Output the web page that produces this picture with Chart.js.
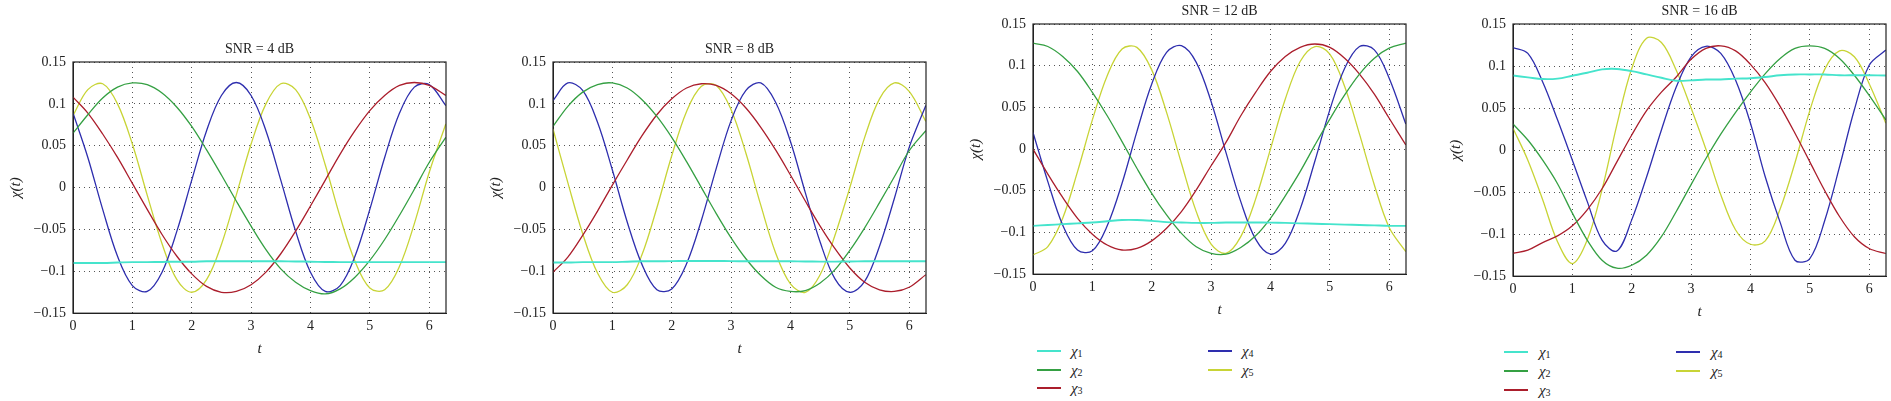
<!DOCTYPE html>
<html>
<head>
<meta charset="utf-8">
<title>chi(t) for different SNR</title>
<script src="https://cdn.jsdelivr.net/npm/chart.js@4.4.0/dist/chart.umd.min.js"></script>
<style>
    body {
        margin: 0;
        background: #fff;
        width: 1891px;
        height: 401px;
        overflow: hidden;
        position: relative;
        font-family: "Liberation Serif", "DejaVu Serif", serif;
    }
    canvas { position: absolute; }
    .item {
        position: absolute;
        height: 18px;
        line-height: 18px;
        font-size: 15px;
        color: #222;
        white-space: nowrap;
    }
    .item .swatch {
        position: absolute;
        left: 0;
        top: 8px;
        width: 24px;
        height: 0;
        border-top: 2px solid;
    }
    .item .label { position: absolute; top: 0; }
    .item sub { font-size: 10px; vertical-align: -1px; }
</style>
</head>
<body>
<script>
// Sample times and axis ticks
const tValues = [0, 0.25, 0.5, 0.75, 1, 1.25, 1.5, 1.75, 2, 2.25, 2.5, 2.75, 3, 3.25, 3.5, 3.75, 4, 4.25, 4.5, 4.75, 5, 5.25, 5.5, 5.75, 6, 6.28];
const xTicks = [0, 1, 2, 3, 4, 5, 6];
const yTicks = [-0.15, -0.1, -0.05, 0, 0.05, 0.1, 0.15];

const panelTitles = ['SNR = 4 dB', 'SNR = 8 dB', 'SNR = 12 dB', 'SNR = 16 dB'];
const seriesNames = ['χ1', 'χ2', 'χ3', 'χ4', 'χ5'];
const seriesColors = ['#45e4cc', '#35a043', '#ab1e2c', '#2e2eae', '#c8d436'];

// SNR = 4 dB
const snr4Chi1 = [-0.090, -0.090, -0.090, -0.0895, -0.089, -0.089, -0.0888, -0.0885, -0.0885, -0.088, -0.088, -0.088, -0.088, -0.088, -0.088, -0.0882, -0.0885, -0.0888, -0.089, -0.089, -0.089, -0.089, -0.089, -0.089, -0.089, -0.089];
const snr4Chi2 = [0.065, 0.087, 0.107, 0.120, 0.125, 0.123, 0.113, 0.096, 0.073, 0.045, 0.015, -0.016, -0.046, -0.074, -0.097, -0.113, -0.123, -0.127, -0.121, -0.107, -0.087, -0.062, -0.033, -0.002, 0.030, 0.060];
const snr4Chi3 = [0.108, 0.089, 0.064, 0.036, 0.005, -0.026, -0.056, -0.082, -0.103, -0.118, -0.125, -0.124, -0.116, -0.101, -0.079, -0.052, -0.022, 0.009, 0.040, 0.068, 0.092, 0.110, 0.122, 0.1255, 0.122, 0.110];
const snr4Chi4 = [0.089, 0.036, -0.026, -0.082, -0.117, -0.124, -0.101, -0.052, 0.009, 0.068, 0.110, 0.1255, 0.110, 0.068, 0.009, -0.052, -0.101, -0.124, -0.117, -0.082, -0.026, 0.036, 0.089, 0.120, 0.123, 0.098];
const snr4Chi5 = [0.086, 0.117, 0.124, 0.100, 0.052, -0.009, -0.067, -0.110, -0.125, -0.110, -0.068, -0.009, 0.052, 0.100, 0.124, 0.117, 0.082, 0.027, -0.035, -0.088, -0.120, -0.122, -0.094, -0.043, 0.018, 0.076];

// SNR = 8 dB
const snr8Chi1 = [-0.0895, -0.0895, -0.089, -0.089, -0.089, -0.0885, -0.088, -0.088, -0.0878, -0.0876, -0.0876, -0.0876, -0.0878, -0.088, -0.088, -0.088, -0.088, -0.0882, -0.0884, -0.0884, -0.0882, -0.088, -0.088, -0.088, -0.088, -0.088];
const snr8Chi2 = [0.073, 0.097, 0.114, 0.123, 0.125, 0.119, 0.105, 0.085, 0.060, 0.031, 0.000, -0.031, -0.060, -0.085, -0.105, -0.119, -0.124, -0.123, -0.114, -0.098, -0.075, -0.048, -0.018, 0.013, 0.044, 0.068];
const snr8Chi3 = [-0.101, -0.083, -0.057, -0.028, 0.003, 0.033, 0.062, 0.087, 0.106, 0.119, 0.124, 0.122, 0.112, 0.095, 0.072, 0.045, 0.015, -0.016, -0.046, -0.073, -0.096, -0.113, -0.122, -0.124, -0.119, -0.104];
const snr8Chi4 = [0.104, 0.125, 0.116, 0.078, 0.021, -0.041, -0.092, -0.122, -0.121, -0.091, -0.039, 0.023, 0.080, 0.116, 0.125, 0.102, 0.055, -0.006, -0.065, -0.109, -0.125, -0.112, -0.070, -0.013, 0.048, 0.098];
const snr8Chi5 = [0.070, 0.006, -0.055, -0.102, -0.125, -0.116, -0.080, -0.024, 0.038, 0.091, 0.121, 0.122, 0.093, 0.041, -0.021, -0.078, -0.115, -0.125, -0.104, -0.057, 0.000, 0.060, 0.106, 0.125, 0.115, 0.079];

// SNR = 12 dB
const snr12Chi1 = [-0.092, -0.091, -0.090, -0.089, -0.088, -0.0865, -0.085, -0.085, -0.086, -0.0875, -0.088, -0.0885, -0.0885, -0.088, -0.088, -0.088, -0.0882, -0.0885, -0.089, -0.0895, -0.090, -0.0905, -0.091, -0.0915, -0.092, -0.092];
const snr12Chi2 = [0.127, 0.123, 0.111, 0.093, 0.068, 0.040, 0.009, -0.023, -0.053, -0.079, -0.101, -0.117, -0.125, -0.126, -0.118, -0.104, -0.083, -0.056, -0.027, 0.005, 0.036, 0.065, 0.090, 0.109, 0.121, 0.127];
const snr12Chi3 = [0.000, -0.030, -0.058, -0.083, -0.102, -0.115, -0.121, -0.119, -0.110, -0.095, -0.075, -0.049, -0.020, 0.008, 0.040, 0.068, 0.093, 0.111, 0.122, 0.126, 0.122, 0.109, 0.090, 0.066, 0.037, 0.005];
const snr12Chi4 = [0.020, -0.039, -0.091, -0.121, -0.122, -0.092, -0.041, 0.021, 0.078, 0.116, 0.124, 0.104, 0.057, -0.004, -0.063, -0.108, -0.126, -0.113, -0.072, -0.014, 0.047, 0.097, 0.123, 0.119, 0.085, 0.030];
const snr12Chi5 = [-0.127, -0.117, -0.083, -0.027, 0.035, 0.088, 0.120, 0.122, 0.095, 0.044, -0.017, -0.075, -0.114, -0.125, -0.105, -0.060, 0.000, 0.060, 0.105, 0.123, 0.114, 0.075, 0.018, -0.043, -0.094, -0.123];

// SNR = 16 dB
const snr16Chi1 = [0.0887, 0.0865, 0.0845, 0.085, 0.0885, 0.092, 0.096, 0.0965, 0.094, 0.090, 0.086, 0.0825, 0.083, 0.084, 0.084, 0.085, 0.0855, 0.087, 0.089, 0.090, 0.090, 0.090, 0.089, 0.089, 0.089, 0.0887];
const snr16Chi2 = [0.031, 0.012, -0.012, -0.040, -0.075, -0.107, -0.131, -0.1405, -0.137, -0.125, -0.103, -0.073, -0.041, -0.010, 0.019, 0.045, 0.069, 0.091, 0.109, 0.121, 0.124, 0.121, 0.109, 0.089, 0.065, 0.036];
const snr16Chi3 = [-0.1227, -0.119, -0.110, -0.102, -0.090, -0.071, -0.046, -0.014, 0.018, 0.047, 0.069, 0.087, 0.108, 0.121, 0.124, 0.118, 0.102, 0.080, 0.052, 0.020, -0.014, -0.048, -0.079, -0.103, -0.117, -0.123];
const snr16Chi4 = [0.122, 0.115, 0.081, 0.036, -0.012, -0.061, -0.107, -0.120, -0.083, -0.032, 0.024, 0.075, 0.111, 0.1235, 0.115, 0.083, 0.032, -0.032, -0.086, -0.131, -0.129, -0.084, -0.020, 0.048, 0.101, 0.119];
const snr16Chi5 = [0.026, -0.012, -0.059, -0.109, -0.135, -0.107, -0.047, 0.030, 0.097, 0.133, 0.128, 0.095, 0.050, 0.001, -0.053, -0.095, -0.112, -0.108, -0.070, -0.015, 0.047, 0.096, 0.118, 0.111, 0.079, 0.032];

const panelSeries = [
    [snr4Chi1, snr4Chi2, snr4Chi3, snr4Chi4, snr4Chi5],
    [snr8Chi1, snr8Chi2, snr8Chi3, snr8Chi4, snr8Chi5],
    [snr12Chi1, snr12Chi2, snr12Chi3, snr12Chi4, snr12Chi5],
    [snr16Chi1, snr16Chi2, snr16Chi3, snr16Chi4, snr16Chi5]
];

// Plot area of each panel on the page
const panelBoxes = [
    { left: 73, right: 446, top: 62, bottom: 313, legend: null },
    { left: 553, right: 926, top: 62, bottom: 313, legend: null },
    { left: 1033, right: 1406, top: 24, bottom: 274, legend: { x: 1037, y: 351, dy: 18.5, col: 171, gap: 34 } },
    { left: 1513, right: 1886, top: 24, bottom: 276, legend: { x: 1504, y: 352, dy: 18.8, col: 172, gap: 35 } }
];

const FONT = '"Liberation Serif", "DejaVu Serif", serif';
const Y_AXIS_W = 70;
const TITLE_H = 30;
const X_AXIS_H = 44.5;
const PAD_RIGHT = 3;

// Draws the closed box round the plot area
const framePlugin = {
    id: 'frame',
    afterDatasetsDraw(chart) {
        const { ctx, chartArea: a } = chart;
        ctx.save();
        ctx.strokeStyle = '#222';
        ctx.lineWidth = 1.2;
        ctx.strokeRect(a.left, a.top, a.right - a.left, a.bottom - a.top);
        ctx.restore();
    }
};

function formatTick(v) {
    const s = (Math.round(v * 100) / 100).toString();
    return s.replace('-', '\u2212');
}

function makePanel(index) {
    const box = panelBoxes[index];
    const canvas = document.createElement('canvas');
    const width = Y_AXIS_W + (box.right - box.left) + PAD_RIGHT;
    const height = TITLE_H + (box.bottom - box.top) + X_AXIS_H;
    canvas.width = width;
    canvas.height = Math.round(height);
    canvas.style.left = (box.left - Y_AXIS_W) + 'px';
    canvas.style.top = (box.top - TITLE_H) + 'px';
    document.body.appendChild(canvas);

    const datasets = panelSeries[index].map((values, k) => ({
        label: seriesNames[k],
        data: tValues.map((t, i) => ({ x: t, y: values[i] })),
        borderColor: seriesColors[k],
        borderWidth: k === 0 ? 1.9 : 1.3,
        pointRadius: 0,
        tension: 0.35,
        fill: false
    }));

    const gridOpts = {
        color: '#555',
        lineWidth: 1,
        drawTicks: false
    };

    new Chart(canvas.getContext('2d'), {
        type: 'line',
        data: { datasets },
        options: {
            responsive: false,
            animation: false,
            devicePixelRatio: 1,
            layout: { padding: { left: 0, right: PAD_RIGHT, top: 0, bottom: 0 } },
            plugins: {
                legend: { display: false },
                tooltip: { enabled: false },
                title: {
                    display: true,
                    text: panelTitles[index],
                    fullSize: false,
                    color: '#222',
                    font: { family: FONT, size: 14, weight: 'normal', lineHeight: 1.2 },
                    padding: { top: 9.4, bottom: 3.8 }
                }
            },
            scales: {
                x: {
                    type: 'linear',
                    min: 0,
                    max: 6.2832,
                    afterBuildTicks: scale => { scale.ticks = xTicks.map(v => ({ value: v })); },
                    grid: gridOpts,
                    border: { display: true, color: '#222', dash: [1, 4] },
                    ticks: {
                        color: '#222',
                        padding: 5,
                        font: { family: FONT, size: 14, lineHeight: 1.2 }
                    },
                    title: {
                        display: true,
                        text: 't',
                        color: '#222',
                        font: { family: FONT, size: 15, style: 'italic', lineHeight: 1.2 },
                        padding: { top: 0, bottom: 0 }
                    }
                },
                y: {
                    type: 'linear',
                    min: -0.15,
                    max: 0.15,
                    afterBuildTicks: scale => { scale.ticks = yTicks.map(v => ({ value: v })); },
                    afterFit: scale => { scale.width = Y_AXIS_W; },
                    grid: gridOpts,
                    border: { display: true, color: '#222', dash: [1, 4] },
                    ticks: {
                        color: '#222',
                        padding: 7,
                        font: { family: FONT, size: 14, lineHeight: 1.2 },
                        callback: v => formatTick(v)
                    },
                    title: {
                        display: true,
                        text: 'χ(t)',
                        color: '#222',
                        font: { family: FONT, size: 15, style: 'italic', lineHeight: 1.2 },
                        padding: { top: 4, bottom: 0 }
                    }
                }
            }
        },
        plugins: [framePlugin]
    });

    if (box.legend) makeLegend(box.legend);
}

// Legend in two columns: χ1, χ2, χ3 then χ4, χ5
function makeLegend(pos) {
    seriesNames.forEach((name, k) => {
        const col = k < 3 ? 0 : 1;
        const row = k < 3 ? k : k - 3;
        const item = document.createElement('div');
        item.className = 'item';
        item.style.left = (pos.x + col * pos.col) + 'px';
        item.style.top = (pos.y + row * pos.dy - 9) + 'px';

        const swatch = document.createElement('span');
        swatch.className = 'swatch';
        swatch.style.borderTopColor = seriesColors[k];
        item.appendChild(swatch);

        const label = document.createElement('span');
        label.className = 'label';
        label.style.left = pos.gap + 'px';
        label.innerHTML = '<i>' + name.charAt(0) + '</i><sub>' + name.slice(1) + '</sub>';
        item.appendChild(label);

        document.body.appendChild(item);
    });
}

// Initialize
panelBoxes.forEach((box, i) => makePanel(i));
</script>
</body>
</html>
